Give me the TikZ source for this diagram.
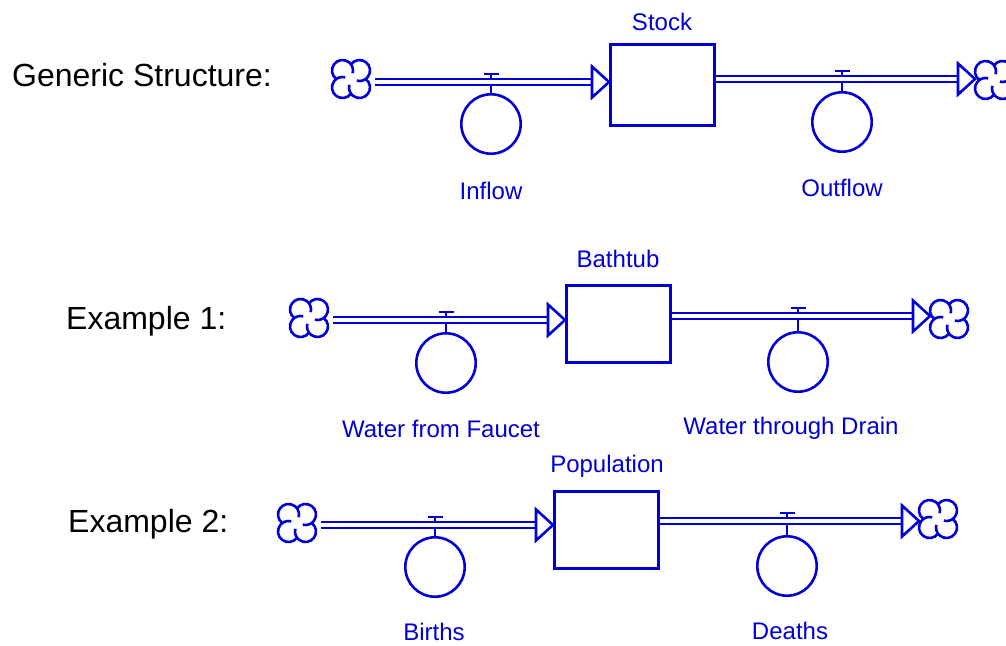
\documentclass[tikz,border=0pt]{standalone}
\usepackage{fontspec}
\setmainfont{Liberation Sans}
\usetikzlibrary{calc}
\definecolor{fc}{RGB}{0,0,214}
\newcommand\FlowValve[2]{%
  \draw[stem] (#1.north) -- ($(#1.north |- #2)+(0,-8)$);
  \draw[stem] ($(#1.north |- #2)+(-7.5,-8)$) -- ($(#1.north |- #2)+(7.5,-8)$);
}
\newcommand\InHead[2]{% stock node, pipe coordinate
  \draw[head] ($(#1.west |- #2)+(-17,-15.5)$) -- (#1.west |- #2) -- ($(#1.west |- #2)+(-17,15.5)$) -- cycle;
}
\newcommand\OutHead[2]{% sink node, pipe coordinate
  \draw[head] ($(#1.center |- #2)+(-36,-15.5)$) -- ($(#1.center |- #2)+(-19,0)$) -- ($(#1.center |- #2)+(-36,15.5)$) -- cycle;
}
\newcommand\CloudShape[1]{%
  \foreach \ang in {0,90,180,270}{
    \draw[cloudline, shift={(#1.center)}, rotate=\ang]
      (8.5pt,8.5pt) ++(144:10.5pt) arc[start angle=144, end angle=-105, radius=10.5pt];
  }%
}
\begin{document}
\begin{tikzpicture}[x=1pt,y=-1pt,
  lw/.style={line width=2.6pt},
  stockbox/.style={draw=fc, lw, rectangle, inner sep=0, minimum width=104.4pt},
  valvecirc/.style={draw=fc, lw, circle, inner sep=0, minimum size=59.4pt},
  cloudnode/.style={circle, inner sep=0, minimum size=46pt},
  cloudline/.style={draw=fc, lw},
  pipe/.style={draw=fc, lw, double=white, double distance=3.6pt},
  head/.style={draw=fc, lw, line join=miter, fill=white},
  stem/.style={draw=fc, lw},
  blabel/.style={text=fc, font=\fontsize{24}{28}\selectfont, inner sep=0, anchor=base},
  klabel/.style={text=black, font=\fontsize{32}{38}\selectfont, inner sep=0, anchor=base west},
]
\useasboundingbox (0,0) rectangle (1006,645);

% ---------- Row 1 ----------
\coordinate (r1in) at (0,82);
\coordinate (r1out) at (0,79);
\node[klabel] (t1) at (12,86) {Generic Structure:};
\node[cloudnode] (src1) at (351,79) {};
\node[cloudnode] (snk1) at (994,80) {};
\CloudShape{src1}
\CloudShape{snk1}
\node[stockbox, minimum height=81.4pt] (stk1) at (662.5,85) {};
\node[blabel] (stk1l) at (662,30) {Stock};
\node[valvecirc] (inv1) at (491,124) {};
\node[valvecirc] (outv1) at (842,122) {};
\node[blabel] (inv1l) at (491,199) {Inflow};
\node[blabel] (outv1l) at (842,196) {Outflow};
\FlowValve{inv1}{r1in}
\FlowValve{outv1}{r1out}
\draw[pipe] ($(src1.east |- r1in)+(1,0)$) -- ($(stk1.west |- r1in)+(-17,0)$);
\InHead{stk1}{r1in}
\draw[pipe] (stk1.east |- r1out) -- ($(snk1.center |- r1out)+(-36,0)$);
\OutHead{snk1}{r1out}

% ---------- Row 2 ----------
\coordinate (r2in) at (0,320);
\coordinate (r2out) at (0,316);
\node[klabel] (t2) at (66,329) {Example 1:};
\node[cloudnode] (src2) at (309,318) {};
\node[cloudnode] (snk2) at (949,319) {};
\CloudShape{src2}
\CloudShape{snk2}
\node[stockbox, minimum height=77.4pt] (stk2) at (618.5,324) {};
\node[blabel] (stk2l) at (618,267) {Bathtub};
\node[valvecirc] (inv2) at (446,363) {};
\node[valvecirc] (outv2) at (798,362) {};
\node[blabel] (inv2l) at (441,437) {Water from Faucet};
\node[blabel] (outv2l) at (791,434) {Water through Drain};
\FlowValve{inv2}{r2in}
\FlowValve{outv2}{r2out}
\draw[pipe] ($(src2.east |- r2in)+(1,0)$) -- ($(stk2.west |- r2in)+(-17,0)$);
\InHead{stk2}{r2in}
\draw[pipe] (stk2.east |- r2out) -- ($(snk2.center |- r2out)+(-36,0)$);
\OutHead{snk2}{r2out}

% ---------- Row 3 ----------
\coordinate (r3in) at (0,525);
\coordinate (r3out) at (0,521);
\node[klabel] (t3) at (68,532) {Example 2:};
\node[cloudnode] (src3) at (297,523) {};
\node[cloudnode] (snk3) at (938,519) {};
\CloudShape{src3}
\CloudShape{snk3}
\node[stockbox, minimum height=77.4pt] (stk3) at (606.5,530) {};
\node[blabel] (stk3l) at (607,472) {Population};
\node[valvecirc] (inv3) at (435,567) {};
\node[valvecirc] (outv3) at (787,566) {};
\node[blabel] (inv3l) at (434,640) {Births};
\node[blabel] (outv3l) at (790,639) {Deaths};
\FlowValve{inv3}{r3in}
\FlowValve{outv3}{r3out}
\draw[pipe] ($(src3.east |- r3in)+(1,0)$) -- ($(stk3.west |- r3in)+(-17,0)$);
\InHead{stk3}{r3in}
\draw[pipe] (stk3.east |- r3out) -- ($(snk3.center |- r3out)+(-36,0)$);
\OutHead{snk3}{r3out}
\end{tikzpicture}
\end{document}
